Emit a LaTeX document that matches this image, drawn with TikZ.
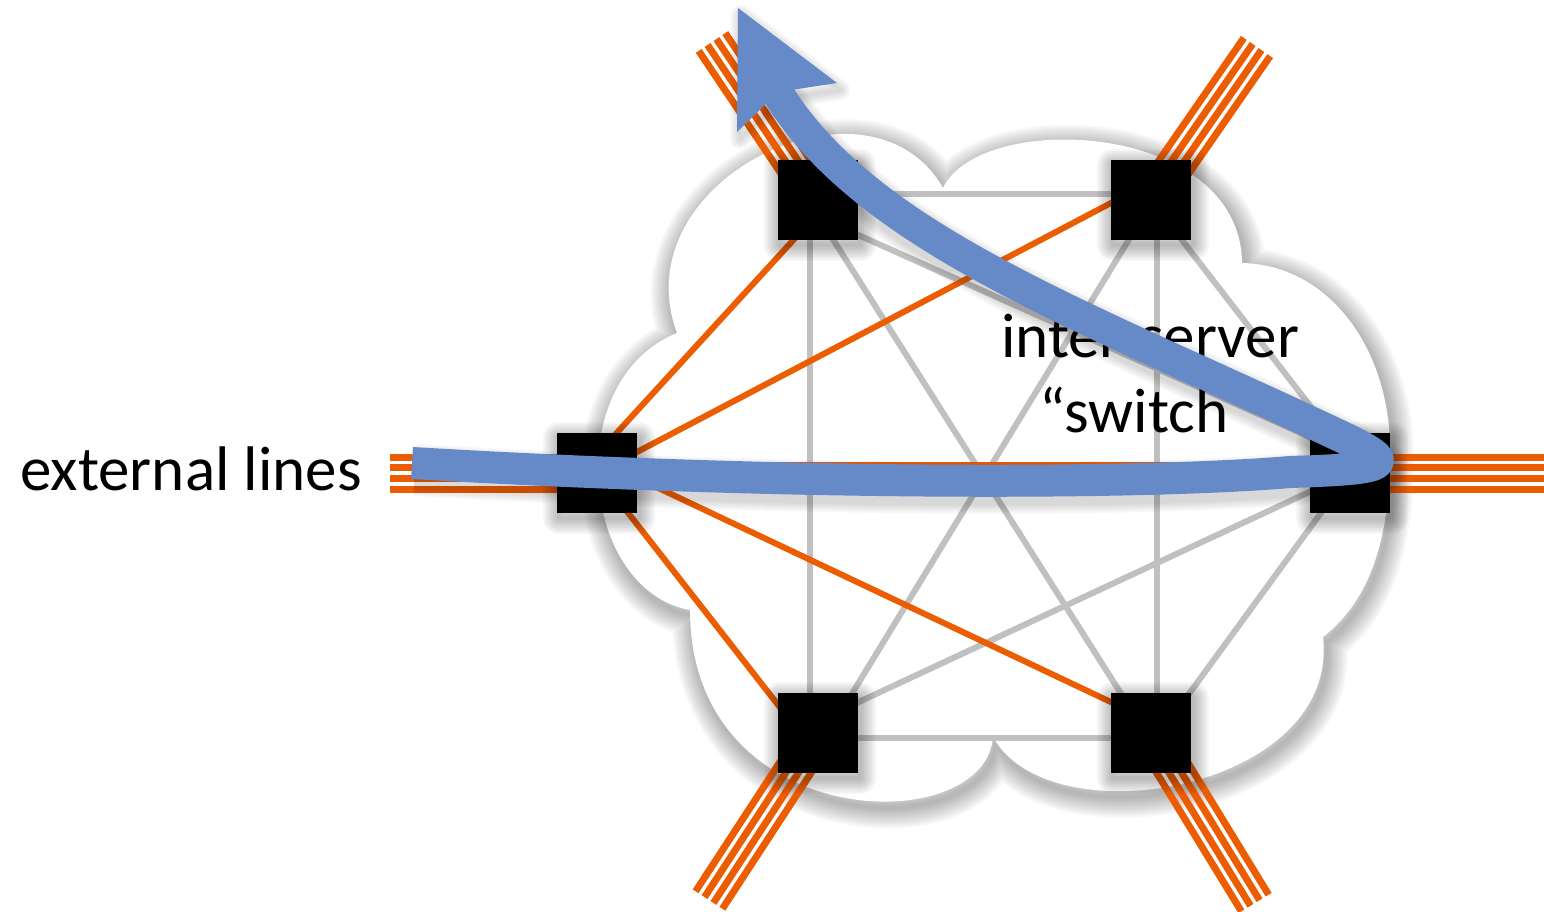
\documentclass[tikz,border=0pt]{standalone}
\usepackage{fontspec}
\setmainfont{Carlito}
\usetikzlibrary{calc}
\pgfdeclarelayer{cloudlayer}
\pgfdeclarelayer{edgelayer}
\pgfdeclarelayer{frontlayer}
\pgfsetlayers{cloudlayer,edgelayer,main,frontlayer}
\definecolor{orng}{RGB}{236,92,0}
\definecolor{lgray}{RGB}{192,192,192}
\definecolor{arrblue}{RGB}{102,137,200}
\newcommand{\cloudshape}{(677,333) .. controls (620,180) and (870,60) .. (943,188) .. controls (980,110) and (1240,120) .. (1242,263) .. controls (1330,265) and (1390,350) .. (1390,450) .. controls (1390,540) and (1370,600) .. (1323,637) .. controls (1340,790) and (1050,840) .. (993,737) .. controls (985,840) and (690,835) .. (690,610) .. controls (580,590) and (560,380) .. (677,333) -- cycle}
\newcommand{\arrowshaft}{(412,463) .. controls (800,486) and (1150,484) .. (1290,472) .. controls (1420,468) and (1393,461) .. (1293,414) .. controls (1050,302) and (850,225) .. (770,80)}
\newcommand{\arrowhead}{(738,8) -- (837,83) -- (778,92) -- (737,132) -- cycle}
\newcommand{\bundle}[2]{\foreach \o in {-16,-5.33,5.33,16}{\draw[ext] ($(#1.center)!\o pt!90:(#2.center)$) -- ($(#2.center)!\o pt!-90:(#1.center)$);}}
\begin{document}
\begin{tikzpicture}[x=1pt,y=-1pt,
  sq/.style={fill=black, minimum size=80pt, inner sep=0pt, outer sep=0pt},
  inner/.style={draw=lgray, line width=6pt},
  orl/.style={draw=orng, line width=6pt},
  ext/.style={draw=orng, line width=7pt},
  lbl/.style={font=\fontsize{63}{75}\selectfont, inner sep=0pt},
  shade/.style={draw=black, opacity=0.025, line join=round},
]
\useasboundingbox (0,0) rectangle (1544,911);

% nodes
\node[sq] (TL) at (818,200) {};
\node[sq] (TR) at (1151,200) {};
\node[sq] (L)  at (597,473) {};
\node[sq] (R)  at (1350,473) {};
\node[sq] (BL) at (818,733) {};
\node[sq] (BR) at (1151,733) {};
\coordinate (le)  at (390,473);
\coordinate (re)  at (1550,473);
\coordinate (tle) at (712,42);
\coordinate (tre) at (1257,47);
\coordinate (ble) at (709,900);
\coordinate (bre) at (1255,903);

% labels
\node[lbl, anchor=base west] (ext) at (20,490) {external lines};
\node[lbl, anchor=base] (sw1) at (1150,357) {inter-server};
\node[lbl, anchor=base] (sw2) at (1147,432) {“switch”};

% cloud
\begin{pgfonlayer}{cloudlayer}
  \foreach \w in {3,6,...,42} {\draw[shade, line width=\w pt, shift={(3,6)}] \cloudshape;}
  \fill[white] \cloudshape;
\end{pgfonlayer}

% edges
\begin{pgfonlayer}{edgelayer}
  \draw[inner] ([yshift=6pt]TL.center) -- ([yshift=6pt]TR.center);
  \draw[inner] ([xshift=-8pt]TL.center) -- ([xshift=-8pt]BL.center);
  \draw[inner] ([xshift=6pt]TR.center) -- ([xshift=6pt]BR.center);
  \draw[inner] ([yshift=-5pt]BL.center) -- ([yshift=-5pt]BR.center);
  \draw[inner] ([xshift=-10pt]TL.center) -- ([xshift=-5pt]BR.center);
  \draw[inner] ([xshift=2pt]TR.center) -- ([xshift=10pt]BL.center);
  \draw[inner] ([yshift=-17pt]TL.center) -- ([yshift=18pt]R.center);
  \draw[inner] (TR.center) -- ([xshift=12pt]R.center);
  \draw[inner] ([yshift=12pt]BL.center) -- (R.center);
  \draw[inner] ([yshift=-13pt]BR.center) -- (R.center);
  \draw[orl] ([xshift=-17pt]L.center) -- ([xshift=12pt]TL.center);
  \draw[orl] (L.center) -- ([yshift=18pt]TR.center);
  \draw[orl] ([yshift=8pt]L.center) -- ([yshift=8pt]R.center);
  \draw[orl] (L.center) -- ([xshift=-18pt]BL.center);
  \draw[orl] ([yshift=14pt]L.center) -- ([yshift=12pt]BR.center);
  \bundle{L}{le}
  \bundle{R}{re}
  \bundle{TL}{tle}
  \bundle{TR}{tre}
  \bundle{BL}{ble}
  \bundle{BR}{bre}
  \foreach \n in {TL,TR,L,R,BL,BR} {
    \foreach \w in {4,8,...,32} {
      \draw[shade, opacity=0.035, line width=\w pt] ([shift={(2,5)}]\n.north west) rectangle ([shift={(2,5)}]\n.south east);
    }
  }
\end{pgfonlayer}

% blue arrow
\begin{pgfonlayer}{frontlayer}
  \foreach \w in {36,40,...,52} {\draw[shade, opacity=0.03, line width=\w pt, shift={(3,7)}] \arrowshaft;}
  \foreach \w in {4,8,...,20} {\draw[shade, opacity=0.03, line width=\w pt, shift={(3,7)}] \arrowhead;}
  \draw[arrblue, line width=32pt, line cap=butt, line join=round] \arrowshaft;
  \fill[arrblue] \arrowhead;
\end{pgfonlayer}
\end{tikzpicture}
\end{document}
